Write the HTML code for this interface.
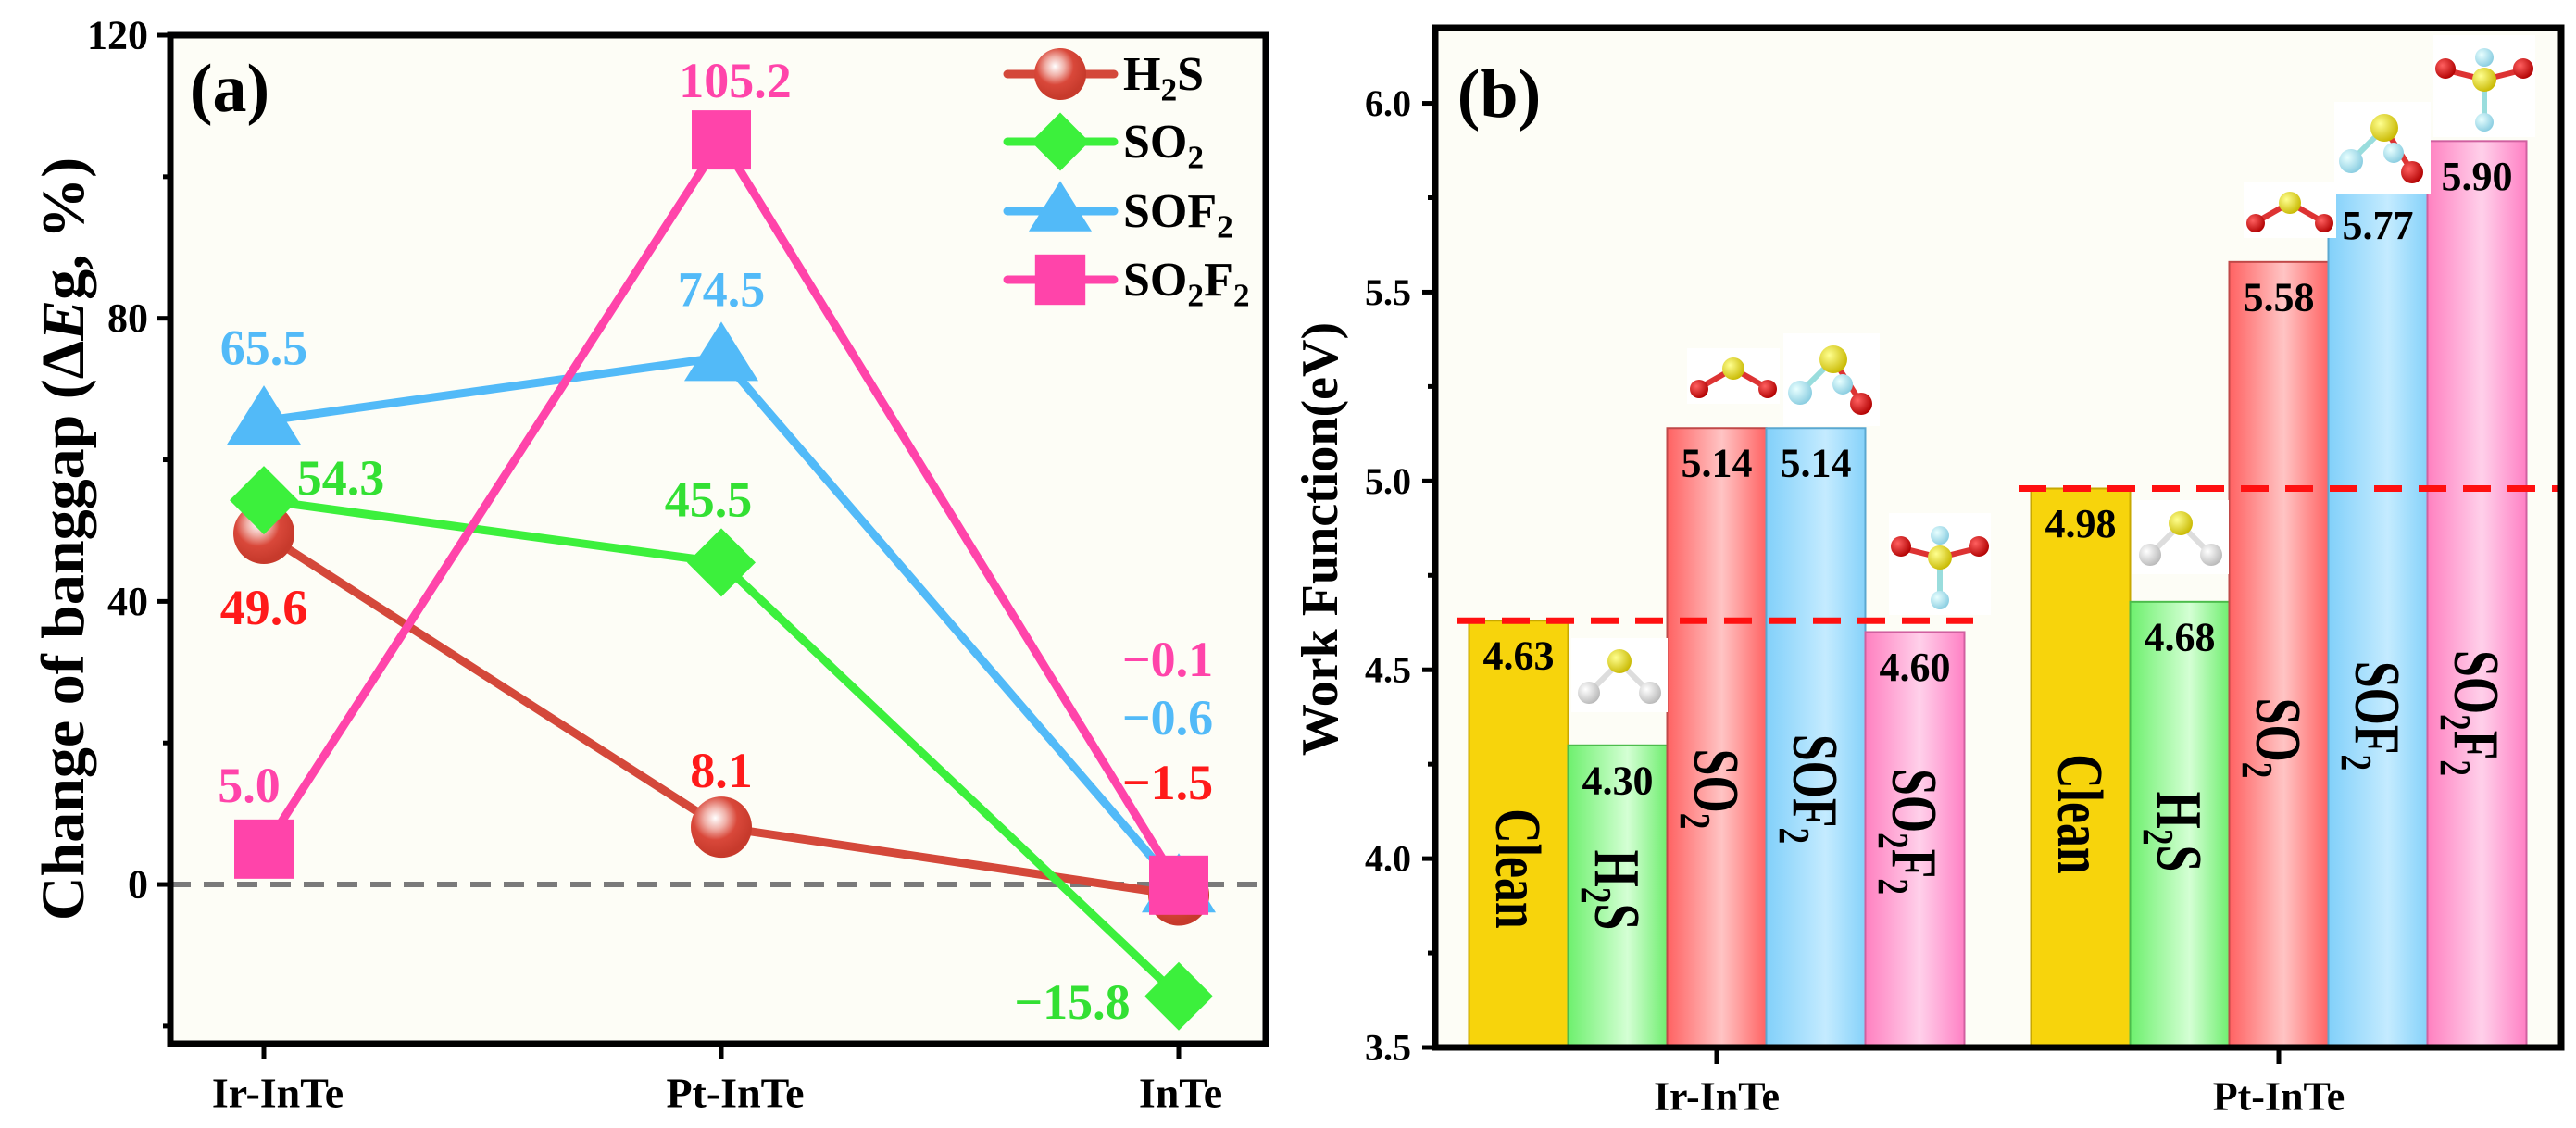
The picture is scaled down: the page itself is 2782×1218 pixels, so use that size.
<!DOCTYPE html>
<html><head><meta charset="utf-8">
<style>
html,body{margin:0;padding:0;background:#fff;}
svg{display:block;font-family:"Liberation Serif",serif;font-weight:bold;}
</style></head>
<body>
<svg id="fig" width="2782" height="1218" viewBox="0 0 2782 1218" xmlns="http://www.w3.org/2000/svg">
<defs>
<radialGradient id="ballG" cx="0.4" cy="0.35" r="0.6"><stop offset="0" stop-color="#fff"/><stop offset="0.3" stop-color="#f0b0a8"/><stop offset="0.6" stop-color="#d9483a"/><stop offset="1" stop-color="#c73a2c"/></radialGradient>
<linearGradient id="gH2S" x1="0" x2="1"><stop offset="0" stop-color="#6ef06e"/><stop offset="0.6" stop-color="#d4ffd4"/><stop offset="1" stop-color="#70ee70"/></linearGradient>
<linearGradient id="gSO2" x1="0" x2="1"><stop offset="0" stop-color="#ff6262"/><stop offset="0.55" stop-color="#ffc4c4"/><stop offset="1" stop-color="#ff6464"/></linearGradient>
<linearGradient id="gSOF2" x1="0" x2="1"><stop offset="0" stop-color="#82d0fa"/><stop offset="0.6" stop-color="#c4ebff"/><stop offset="1" stop-color="#86d2fa"/></linearGradient>
<linearGradient id="gSO2F2" x1="0" x2="1"><stop offset="0" stop-color="#ff80c0"/><stop offset="0.55" stop-color="#ffd0ea"/><stop offset="1" stop-color="#ff80c4"/></linearGradient>
<radialGradient id="atS" cx="0.35" cy="0.35" r="0.7"><stop offset="0" stop-color="#ffff90"/><stop offset="1" stop-color="#c8b800"/></radialGradient>
<radialGradient id="atO" cx="0.35" cy="0.35" r="0.7"><stop offset="0" stop-color="#ff6060"/><stop offset="1" stop-color="#b00000"/></radialGradient>
<radialGradient id="atF" cx="0.35" cy="0.35" r="0.7"><stop offset="0" stop-color="#e8ffff"/><stop offset="1" stop-color="#88cce0"/></radialGradient>
<radialGradient id="atH" cx="0.35" cy="0.35" r="0.7"><stop offset="0" stop-color="#ffffff"/><stop offset="1" stop-color="#b8b8b8"/></radialGradient>
</defs>
<g id="panelA"></g>
<g id="panelB"></g>
</svg>
<script>
// ---------- Panel (a) data ----------
const catsA = ["Ir-InTe", "Pt-InTe", "InTe"];
const h2sVals = [49.6, 8.1, -1.5];
const so2Vals = [54.3, 45.5, -15.8];
const sof2Vals = [65.5, 74.5, -0.6];
const so2f2Vals = [5.0, 105.2, -0.1];
const h2sLabels = ["49.6", "8.1", "\u22121.5"];
const so2Labels = ["54.3", "45.5", "\u221215.8"];
const sof2Labels = ["65.5", "74.5", "\u22120.6"];
const so2f2Labels = ["5.0", "105.2", "\u22120.1"];
const yTicksA = [0, 40, 80, 120];
const yTickLabelsA = ["0", "40", "80", "120"];

// ---------- Panel (b) data ----------
const groupsB = ["Ir-InTe", "Pt-InTe"];
const gasesB = ["Clean", "H2S", "SO2", "SOF2", "SO2F2"];
const irVals = [4.63, 4.30, 5.14, 5.14, 4.60];
const ptVals = [4.98, 4.68, 5.58, 5.77, 5.90];
const irLabels = ["4.63", "4.30", "5.14", "5.14", "4.60"];
const ptLabels = ["4.98", "4.68", "5.58", "5.77", "5.90"];
const refVals = [4.63, 4.98];
const yTicksB = [3.5, 4.0, 4.5, 5.0, 5.5, 6.0];
const yTickLabelsB = ["3.5", "4.0", "4.5", "5.0", "5.5", "6.0"];

const NS = "http://www.w3.org/2000/svg";
function mk(parent, tag, attrs, text) {
  const e = document.createElementNS(NS, tag);
  for (const k in attrs) e.setAttribute(k, attrs[k]);
  if (text !== undefined) e.textContent = text;
  parent.appendChild(e);
  return e;
}
function chem(el, s, fs) {
  let low = false;
  for (const ch of s) {
    if (/[0-9]/.test(ch)) {
      mk(el, "tspan", {dy: low ? 0 : fs * 0.22, "font-size": fs * 0.68}, ch);
      low = true;
    } else {
      mk(el, "tspan", {dy: low ? -fs * 0.22 : 0}, ch);
      low = false;
    }
  }
}

// ================= PANEL A =================
const A = document.getElementById("panelA");
const aL = 184, aR = 1367, aT = 38, aB = 1127;
const yMinA = -22.5, yMaxA = 120;
const xA = i => 285 + i * 494;
const yA = v => aB - (v - yMinA) / (yMaxA - yMinA) * (aB - aT);

const bgA = mk(A, "rect", {x: aL, y: aT, width: aR - aL, height: aB - aT, fill: "#fdfdf6"});



const zl = mk(A, "line", {x1: aL, x2: aR, y1: yA(0), y2: yA(0), stroke: "#7a7a7a", "stroke-width": 6, "stroke-dasharray": "22 14"});



const seriesA = [
  {name: "H2S", vals: h2sVals, labels: h2sLabels, line: "#d4483a", lab: "#ff1a1a", marker: "circle"},
  {name: "SO2", vals: so2Vals, labels: so2Labels, line: "#3cf03c", lab: "#33e033", marker: "diamond"},
  {name: "SOF2", vals: sof2Vals, labels: sof2Labels, line: "#52baf8", lab: "#52baf8", marker: "triangle"},
  {name: "SO2F2", vals: so2f2Vals, labels: so2f2Labels, line: "#ff44aa", lab: "#ff44aa", marker: "square"}
];
const labOff = {
  H2S: [[0, 80], [0, -61], [-12, 0]],
  SO2: [[83, -24], [-14, -68], [-115, 6]],
  SOF2: [[0, -79], [0, -73], [-12, 0]],
  SO2F2: [[-16, -69], [15, -64], [-12, 0]]
};
const inteAbs = {H2S: 845, SOF2: 775, SO2F2: 712};

function marker(g, type, cx, cy, color, s) {
  let e;
  if (type === "circle") {
    e = mk(g, "circle", {cx: cx, cy: cy, r: 33 * s, fill: "url(#ballG)"});
  } else if (type === "diamond") {
    const w = 37 * s, h = 37 * s;
    e = mk(g, "polygon", {points: `${cx},${cy - h} ${cx + w},${cy} ${cx},${cy + h} ${cx - w},${cy}`, fill: color});
  } else if (type === "triangle") {
    const w = 40 * s, h = 64 * s;
    e = mk(g, "polygon", {points: `${cx},${cy - h * 0.6} ${cx + w},${cy + h * 0.4} ${cx - w},${cy + h * 0.4}`, fill: color});
  } else {
    const w = 32 * s;
    e = mk(g, "rect", {x: cx - w, y: cy - w, width: 2 * w, height: 2 * w, fill: color});
  }
  return e;
}

seriesA.forEach(s => {
  const g = mk(A, "g", {});
  
  
  const pts = s.vals.map((v, i) => `${xA(i)},${yA(v)}`).join(" ");
  const pl = mk(g, "polyline", {points: pts, fill: "none", stroke: s.line, "stroke-width": 9, "stroke-linejoin": "round"});
  
  
});
seriesA.forEach(s => {
  s.vals.forEach((v, i) => {
    const m = marker(A, s.marker, xA(i), yA(v), s.line, 1);
    
    
  });
});
seriesA.forEach(s => {
  s.vals.forEach((v, i) => {
    const o = labOff[s.name][i];
    let ly = yA(v) + o[1];
    if (i === 2 && inteAbs[s.name] !== undefined) ly = inteAbs[s.name];
    const t = mk(A, "text", {x: xA(i) + o[0], y: ly, fill: s.lab, "font-size": 54, "text-anchor": "middle", "dominant-baseline": "central"}, s.labels[i]);
    
    
  });
});

const frA = mk(A, "rect", {x: aL, y: aT, width: aR - aL, height: aB - aT, fill: "none", stroke: "#000", "stroke-width": 7});


for (let v = -20; v <= 120; v += 20) {
  const major = yTicksA.indexOf(v) >= 0;
  const tk = mk(A, "line", {x1: aL - (major ? 14 : 8), x2: aL, y1: yA(v), y2: yA(v), stroke: "#000", "stroke-width": 5});
  
  
}
yTicksA.forEach((v, i) => {
  const t = mk(A, "text", {x: aL - 24, y: yA(v), "font-size": 44, "text-anchor": "end", "dominant-baseline": "central"}, yTickLabelsA[i]);
  
  
});
catsA.forEach((c, i) => {
  const tk = mk(A, "line", {x1: xA(i), x2: xA(i), y1: aB, y2: aB + 16, stroke: "#000", "stroke-width": 5});
  
  
  const t = mk(A, "text", {x: xA(i) + (i === 2 ? 2 : 15), y: 1180, "font-size": 46, "text-anchor": "middle", "dominant-baseline": "central"}, c);
  
  
});
const ytA = mk(A, "text", {x: 0, y: 0, "font-size": 66, "text-anchor": "middle", "dominant-baseline": "central", transform: "translate(68,582) rotate(-90)"});


mk(ytA, "tspan", {}, "Change of banggap (\u0394");
mk(ytA, "tspan", {"font-style": "italic"}, "E");
mk(ytA, "tspan", {}, "g, %)");
const pa = mk(A, "text", {x: 248, y: 96, "font-size": 74, "text-anchor": "middle", "dominant-baseline": "central"}, "(a)");



const legY = [80, 153, 228, 302];
seriesA.forEach((s, i) => {
  const g = mk(A, "g", {});
  
  
  mk(g, "line", {x1: 1088, x2: 1203, y1: legY[i], y2: legY[i], stroke: s.line, "stroke-width": 9, "stroke-linecap": "round"});
  marker(g, s.marker, 1145, legY[i], s.line, 0.85);
  const t = mk(g, "text", {x: 1213, y: legY[i] + 17, "font-size": 52});
  chem(t, s.name, 52);
});

// ================= PANEL B =================
const B = document.getElementById("panelB");
const bL = 1550, bR = 2766, bT = 30, bB = 1131;
const yMinB = 3.5, yMaxB = 6.2;
const yB = v => bB - (v - yMinB) / (yMaxB - yMinB) * (bB - bT);
const groupCenter = gi => 1854 + gi * 607;
const barW = 107;
const xBar = (gi, bi) => groupCenter(gi) - 2.5 * barW + bi * barW;
const fills = ["#f7d40c", "url(#gH2S)", "url(#gSO2)", "url(#gSOF2)", "url(#gSO2F2)"];
const strokes = ["#c8a800", "#4cbc4c", "#c04848", "#5aa8d0", "#d060a0"];

const bgB = mk(B, "rect", {x: bL, y: bT, width: bR - bL, height: bB - bT, fill: "#fdfdf6"});



const valsByGroup = [irVals, ptVals];
const labsByGroup = [irLabels, ptLabels];
const rotY = [[938, 961, 852, 852, 898], [879, 898, 797, 773, 770]];

valsByGroup.forEach((vals, gi) => {
  vals.forEach((v, bi) => {
    const x = xBar(gi, bi);
    const r = mk(B, "rect", {x: x, y: yB(v), width: barW, height: yB(yMinB) - yB(v), fill: fills[bi], stroke: strokes[bi], "stroke-width": 2});
    
    
    const t = mk(B, "text", {x: x + barW / 2, y: yB(v) + 38, "font-size": 44, "text-anchor": "middle", "dominant-baseline": "central"}, labsByGroup[gi][bi]);
    
    
    const rl = mk(B, "text", {x: 0, y: 24, "font-size": 70, "text-anchor": "middle", transform: `translate(${x + barW / 2},${rotY[gi][bi]}) rotate(90) scale(0.74,1)`});
    chem(rl, gasesB[bi], 70);
    
    
  });
});

const refX = [[1574, 2131], [2180, 2763]];
refVals.forEach((v, i) => {
  const l = mk(B, "line", {x1: refX[i][0], x2: refX[i][1], y1: yB(v), y2: yB(v), stroke: "#ff1010", "stroke-width": 7, "stroke-dasharray": "30 18"});
  
  
});

function atom(g, x, y, r, type) { mk(g, "circle", {cx: x, cy: y, r: r, fill: "url(#at" + type + ")"}); }
function bond(g, x1, y1, x2, y2, c) { mk(g, "line", {x1, y1, x2, y2, stroke: c, "stroke-width": 6}); }
function mol(kind, cx, cy) {
  const g = mk(B, "g", {});
  
  
  if (kind === "H2S") {
    mk(g, "rect", {x: cx - 52, y: cy - 38, width: 104, height: 80, fill: "#fff"});
    bond(g, cx, cy - 12, cx - 30, cy + 18, "#ddd"); bond(g, cx, cy - 12, cx + 30, cy + 18, "#ddd");
    atom(g, cx - 33, cy + 21, 12, "H"); atom(g, cx + 33, cy + 21, 12, "H"); atom(g, cx, cy - 13, 13, "S");
  } else if (kind === "SO2") {
    mk(g, "rect", {x: cx - 50, y: cy - 30, width: 100, height: 60, fill: "#fff"});
    bond(g, cx, cy - 8, cx - 35, cy + 12, "#d33"); bond(g, cx, cy - 8, cx + 35, cy + 12, "#d33");
    atom(g, cx - 37, cy + 14, 10, "O"); atom(g, cx + 37, cy + 14, 10, "O"); atom(g, cx, cy - 8, 12, "S");
  } else if (kind === "SOF2") {
    mk(g, "rect", {x: cx - 52, y: cy - 50, width: 104, height: 100, fill: "#fff"});
    bond(g, cx + 2, cy - 22, cx - 32, cy + 12, "#9dd"); bond(g, cx + 2, cy - 22, cx + 30, cy + 22, "#d33");
    atom(g, cx + 12, cy + 5, 11, "F"); atom(g, cx - 34, cy + 14, 13, "F"); atom(g, cx + 2, cy - 22, 15, "S"); atom(g, cx + 32, cy + 26, 12, "O");
  } else {
    mk(g, "rect", {x: cx - 55, y: cy - 48, width: 110, height: 110, fill: "#fff"});
    bond(g, cx, cy, cx - 40, cy - 10, "#d33"); bond(g, cx, cy, cx + 40, cy - 10, "#d33"); bond(g, cx, cy, cx, cy + 45, "#9dd");
    atom(g, cx, cy - 24, 10, "F"); atom(g, cx - 42, cy - 12, 11, "O"); atom(g, cx + 42, cy - 12, 11, "O"); atom(g, cx, cy, 13, "S"); atom(g, cx, cy + 46, 10, "F");
  }
}
mol("H2S", 1749, 727); mol("SO2", 1872, 406); mol("SOF2", 1978, 410); mol("SO2F2", 2095, 602);
mol("H2S", 2355, 578); mol("SO2", 2473, 227); mol("SOF2", 2573, 160); mol("SO2F2", 2683, 86);

const frB = mk(B, "rect", {x: bL, y: bT, width: bR - bL, height: bB - bT, fill: "none", stroke: "#000", "stroke-width": 7});


for (let i = 0; i <= 10; i++) {
  const v = 3.5 + i * 0.25;
  const major = i % 2 === 0;
  const tk = mk(B, "line", {x1: bL - (major ? 14 : 8), x2: bL, y1: yB(v), y2: yB(v), stroke: "#000", "stroke-width": 5});
  
  
}
yTicksB.forEach((v, i) => {
  const t = mk(B, "text", {x: bL - 26, y: yB(v), "font-size": 40, "text-anchor": "end", "dominant-baseline": "central"}, yTickLabelsB[i]);
  
  
});
groupsB.forEach((gname, gi) => {
  const tk = mk(B, "line", {x1: groupCenter(gi), x2: groupCenter(gi), y1: bB, y2: bB + 18, stroke: "#000", "stroke-width": 5});
  
  
  const t = mk(B, "text", {x: groupCenter(gi), y: 1184, "font-size": 44, "text-anchor": "middle", "dominant-baseline": "central"}, gname);
  
  
});
const ytB = mk(B, "text", {x: 0, y: 0, "font-size": 56, "text-anchor": "middle", "dominant-baseline": "central", transform: "translate(1426,582) rotate(-90)"}, "Work Function(eV)");


const pb = mk(B, "text", {x: 1619, y: 102, "font-size": 74, "text-anchor": "middle", "dominant-baseline": "central"}, "(b)");


</script>
</body></html>
